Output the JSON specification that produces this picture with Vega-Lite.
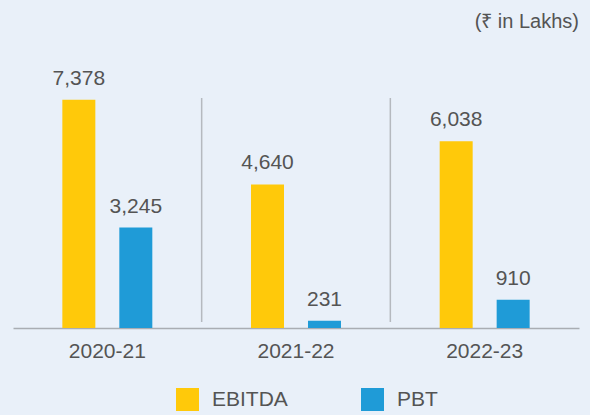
{
  "$schema": "https://vega.github.io/schema/vega-lite/v6.json",
  "autosize": "none",
  "width": 566,
  "height": 263,
  "padding": {"left": 13, "top": 65, "right": 11, "bottom": 87},
  "background": "#E9F0F9",
  "config": {
    "font": "Liberation Sans",
    "view": {"stroke": null}
  },
  "title": {
    "text": "(₹ in Lakhs)",
    "anchor": "end",
    "fontSize": 20,
    "fontWeight": "normal",
    "color": "#545454",
    "baseline": "alphabetic",
    "offset": 17
  },
  "datasets": {
    "vals": [
      {"year": "2020-21", "series": "EBITDA", "value": 7378},
      {"year": "2020-21", "series": "PBT", "value": 3245},
      {"year": "2021-22", "series": "EBITDA", "value": 4640},
      {"year": "2021-22", "series": "PBT", "value": 231},
      {"year": "2022-23", "series": "EBITDA", "value": 6038},
      {"year": "2022-23", "series": "PBT", "value": 910}
    ],
    "seps": [
      {"year": "2021-22"},
      {"year": "2022-23"}
    ]
  },
  "layer": [
    {
      "data": {"name": "vals"},
      "mark": {"type": "bar"},
      "encoding": {
        "x": {
          "field": "year", "type": "nominal", "sort": ["2020-21", "2021-22", "2022-23"],
          "scale": {"paddingInner": 0, "paddingOuter": 0},
          "axis": {
            "title": null, "labelAngle": 0, "labelFontSize": 21, "labelColor": "#545454",
            "ticks": false, "labelPadding": 12, "domainColor": "#A9ADB3", "domainWidth": 1.5, "grid": false
          }
        },
        "xOffset": {
          "field": "series", "type": "nominal", "sort": ["EBITDA", "PBT"],
          "scale": {"paddingInner": 0.421, "paddingOuter": 0.866}
        },
        "y": {
          "field": "value", "type": "quantitative",
          "scale": {"domain": [0, 8500], "nice": false},
          "axis": null
        },
        "color": {
          "field": "series", "type": "nominal",
          "scale": {"domain": ["EBITDA", "PBT"], "range": ["#FFC90A", "#1F9BD7"]},
          "legend": {
            "orient": "none", "legendX": 163, "legendY": 323, "direction": "horizontal",
            "title": null, "symbolType": "square", "symbolSize": 529, "symbolStrokeWidth": 0,
            "symbolOpacity": 1, "labelFontSize": 21, "labelOffset": 13, "columnPadding": 73,
            "padding": 0, "labelColor": "#545454"
          }
        }
      }
    },
    {
      "data": {"name": "vals"},
      "mark": {"type": "text", "fontSize": 21, "color": "#545454", "baseline": "alphabetic", "dy": -15},
      "encoding": {
        "x": {"field": "year", "type": "nominal", "sort": ["2020-21", "2021-22", "2022-23"]},
        "xOffset": {"field": "series", "type": "nominal", "sort": ["EBITDA", "PBT"]},
        "y": {"field": "value", "type": "quantitative"},
        "text": {"field": "value", "type": "quantitative", "format": ","}
      }
    },
    {
      "data": {"name": "seps"},
      "mark": {"type": "rule", "color": "#B5B9BF", "strokeWidth": 1.5},
      "encoding": {
        "x": {"field": "year", "type": "nominal", "bandPosition": 0, "sort": ["2020-21", "2021-22", "2022-23"]},
        "y": {"datum": 7433},
        "y2": {"datum": 194}
      }
    }
  ]
}
